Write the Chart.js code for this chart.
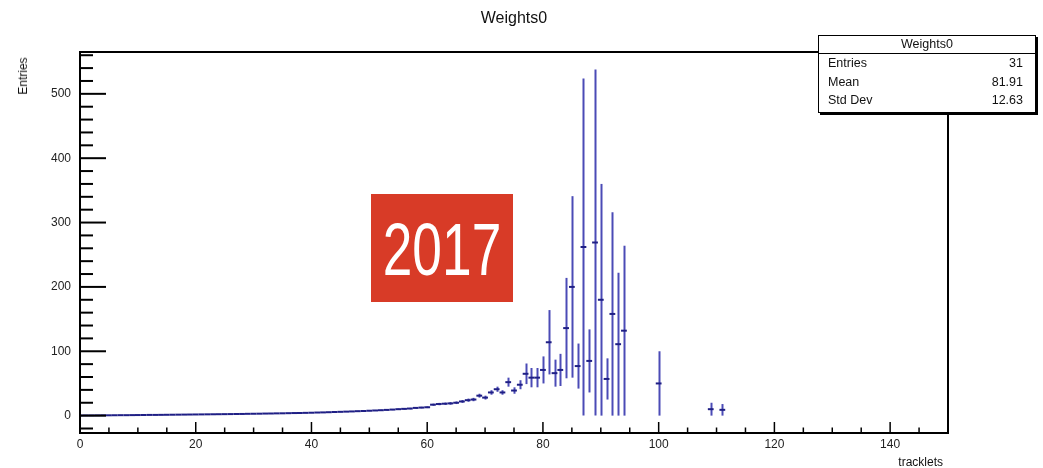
<!DOCTYPE html>
<html>
<head>
<meta charset="utf-8">
<script src="https://cdn.jsdelivr.net/npm/chart.js@4.4.1/dist/chart.umd.min.js"></script>
<style>
  html, body { margin: 0; padding: 0; background: #fff; }
  #wrap { position: relative; width: 1043px; height: 468px; font-family: "Liberation Sans", Arial, sans-serif; }
  #plot { position: absolute; left: 0; top: 0; }
  .t { position: absolute; white-space: nowrap; color: #111; }
  #title { left: 514px; top: 9px; font-size: 16px; transform: translateX(-50%); }
  #ytitle { left: 23px; top: 76px; font-size: 12px; transform: translate(-50%, -50%) rotate(-90deg); }
  #xtitle { right: 100px; top: 455px; font-size: 12px; }
  #stats { position: absolute; left: 818px; top: 35px; width: 216px; height: 76px; background: #fff;
           border: 1px solid #000; box-shadow: 2px 2px 0 #000; font-size: 12.5px; color: #111; }
  #stats .head { height: 17px; line-height: 17px; text-align: center; border-bottom: 1px solid #000; }
  #stats .row { height: 18.5px; line-height: 19px; padding: 0 12px 0 9px; display: flex; justify-content: space-between; }
  #stamp { position: absolute; left: 371px; top: 194px; width: 142px; height: 108px; background: #d83b27; }
  #stamp span { position: absolute; left: 50%; top: 50%; color: #fff; font-size: 74px; line-height: 1;
                transform: translate(-50%, -47%) scaleX(0.72); }
</style>
</head>
<body>
<div id="wrap">
  <canvas id="plot" width="1043" height="468"></canvas>
  <div class="t" id="title">Weights0</div>
  <div class="t" id="ytitle">Entries</div>
  <div class="t" id="xtitle">tracklets</div>
  <div id="stats"></div>
  <div id="stamp"><span>2017</span></div>
</div>
<script>
// histogram bins (centre, content, error)
const binCenters = [
  0, 1, 2, 3, 4, 5, 6, 7, 8, 9, 10, 11, 12, 13, 14, 15, 16, 17, 18, 19,
  20, 21, 22, 23, 24, 25, 26, 27, 28, 29, 30, 31, 32, 33, 34, 35, 36, 37, 38, 39,
  40, 41, 42, 43, 44, 45, 46, 47, 48, 49, 50, 51, 52, 53, 54, 55, 56, 57, 58, 59,
  60, 61, 62, 63, 64, 65, 66, 67, 68, 69, 70, 71, 72, 73, 74, 75, 76, 77, 78, 79,
  80, 81, 82, 83, 84, 85, 86, 87, 88, 89, 90, 91, 92, 93, 94, 100, 109, 111
];
const binCounts = [
  0.2, 0.3, 0.3, 0.4, 0.5, 0.5, 0.6, 0.7, 0.7, 0.8, 0.9, 1.0, 1.1, 1.1, 1.2, 1.3, 1.4, 1.5, 1.6, 1.7,
  1.8, 1.9, 2.0, 2.1, 2.2, 2.3, 2.4, 2.5, 2.6, 2.8, 2.9, 3.0, 3.2, 3.3, 3.5, 3.6, 3.8, 4.0, 4.1, 4.3,
  4.5, 4.8, 5.0, 5.3, 5.6, 5.9, 6.2, 6.5, 6.9, 7.2, 7.6, 8.0, 8.4, 8.9, 9.4, 10, 10.5, 11, 12, 12.5,
  13, 17, 18, 18.5, 19, 20, 22, 24, 25, 31, 28, 36, 41, 36, 52, 39, 48, 65, 59, 59,
  71, 114, 66, 71, 136, 200, 77, 262, 85, 269, 180, 57, 158, 111, 132, 50, 10, 9
];
const binErrors = [
  0.1, 0.1, 0.1, 0.1, 0.1, 0.1, 0.1, 0.1, 0.1, 0.1, 0.1, 0.1, 0.1, 0.1, 0.1, 0.1, 0.2, 0.2, 0.2, 0.2,
  0.2, 0.2, 0.2, 0.2, 0.2, 0.2, 0.2, 0.2, 0.2, 0.3, 0.3, 0.3, 0.3, 0.3, 0.3, 0.3, 0.3, 0.4, 0.4, 0.4,
  0.4, 0.4, 0.5, 0.5, 0.5, 0.5, 0.6, 0.6, 0.6, 0.7, 0.7, 0.8, 0.8, 0.9, 0.9, 1.0, 1.0, 1.1, 1.2, 1.2,
  1.3, 1.6, 1.8, 1.8, 2.0, 2.0, 2.2, 2.5, 2.6, 3.0, 3.0, 3.5, 4.0, 3.5, 7, 5, 7, 16, 15, 15,
  21, 50, 21, 25, 78, 141, 35, 262, 49, 269, 180, 32, 158, 111, 132, 50, 10, 9
];

const xTickLabels = [0, 20, 40, 60, 80, 100, 120, 140];
const yTickLabels = [0, 100, 200, 300, 400, 500];
const statNames = ['Entries', 'Mean', 'Std Dev'];
const statValues = ['31', '81.91', '12.63'];

const xMin = 0, xMax = 150, yMin = -27, yMax = 565;

// stats box
const stats = document.getElementById('stats');
stats.innerHTML = '<div class="head">Weights0</div>' +
  statNames.map((s, i) => `<div class="row"><span>${s}</span><span>${statValues[i]}</span></div>`).join('');

// vertical error bars through the scales
const errorBars = {
  id: 'errorBars',
  beforeDatasetsDraw(chart) {
    const { ctx, scales: { x, y } } = chart;
    ctx.save();
    ctx.beginPath();
    ctx.rect(chart.chartArea.left, chart.chartArea.top, chart.chartArea.width, chart.chartArea.height);
    ctx.clip();
    ctx.strokeStyle = '#4b4bb6';
    ctx.lineWidth = 2;
    binCenters.forEach((c, i) => {
      const px = Math.round(x.getPixelForValue(c)) + 0.5;
      const lo = Math.max(binCounts[i] - binErrors[i], 0);
      ctx.beginPath();
      ctx.moveTo(px, y.getPixelForValue(binCounts[i] + binErrors[i]));
      ctx.lineTo(px, y.getPixelForValue(lo));
      ctx.stroke();
    });
    ctx.restore();
  }
};

// ROOT-like frame with inside ticks
const frameTicks = {
  id: 'frameTicks',
  afterDraw(chart) {
    const { ctx, chartArea: a, scales: { x, y } } = chart;
    ctx.save();
    ctx.strokeStyle = '#000';
    ctx.lineWidth = 2;
    ctx.strokeRect(a.left, a.top, a.right - a.left, a.bottom - a.top);
    ctx.lineWidth = 2;
    for (let v = -20; v <= 560; v += 20) {
      const py = y.getPixelForValue(v);
      const len = v % 100 === 0 ? 26 : 13;
      ctx.beginPath();
      ctx.moveTo(a.left, py);
      ctx.lineTo(a.left + len, py);
      ctx.stroke();
    }
    ctx.lineWidth = 1.5;
    for (let v = 0; v <= 150; v += 5) {
      const px = x.getPixelForValue(v);
      const len = v % 20 === 0 ? 11 : 5.5;
      ctx.beginPath();
      ctx.moveTo(px, a.bottom);
      ctx.lineTo(px, a.bottom - len);
      ctx.stroke();
    }
    ctx.restore();
  }
};

Chart.defaults.animation = false;
Chart.defaults.font.family = '"Liberation Sans", Arial, sans-serif';

new Chart(document.getElementById('plot'), {
  type: 'scatter',
  data: {
    datasets: [{
      data: binCenters.map((c, i) => ({ x: c, y: binCounts[i] })),
      pointStyle: 'line',
      pointRadius: 2.9,
      borderColor: '#1f1f85',
      backgroundColor: '#1f1f85',
      borderWidth: 2
    }]
  },
  options: {
    responsive: false,
    events: [],
    layout: { padding: { left: 0, top: 52, right: 95, bottom: 0 } },
    plugins: { legend: { display: false }, tooltip: { enabled: false } },
    scales: {
      x: {
        type: 'linear', min: xMin, max: xMax,
        grid: { display: false, drawTicks: false },
        border: { display: false },
        afterBuildTicks: (s) => { s.ticks = xTickLabels.map(v => ({ value: v })); },
        afterFit: (s) => { s.height = 35; },
        ticks: { padding: 4, color: '#222', font: { size: 12 }, maxRotation: 0 }
      },
      y: {
        type: 'linear', min: yMin, max: yMax,
        grid: { display: false, drawTicks: false },
        border: { display: false },
        afterBuildTicks: (s) => { s.ticks = yTickLabels.map(v => ({ value: v })); },
        afterFit: (s) => { s.width = 80; },
        ticks: { padding: 9, color: '#222', font: { size: 12 } }
      }
    }
  },
  plugins: [errorBars, frameTicks]
});
</script>
</body>
</html>
